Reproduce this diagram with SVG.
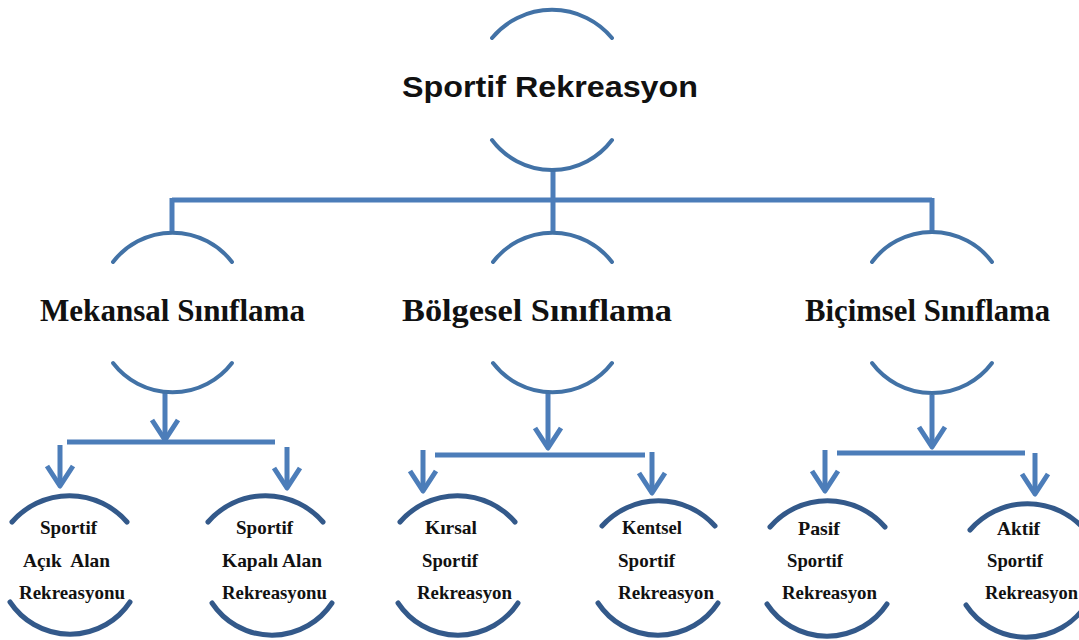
<svg xmlns="http://www.w3.org/2000/svg" width="1079" height="640" viewBox="0 0 1079 640">
<style>
.bg{fill:#ffffff}
.arc{fill:none;stroke:#4272a6;stroke-width:4;stroke-linecap:round}
.leafarc{fill:none;stroke:#33598a;stroke-width:5;stroke-linecap:round}
.con{fill:none;stroke:#4c7db9;stroke-width:5}
.title{font-family:"Liberation Sans",Arial,sans-serif;font-weight:bold;font-size:29px;fill:#111}
.mid{font-family:"Liberation Serif","Times New Roman",serif;font-weight:bold;font-size:31px;fill:#111}
.leaf{font-family:"Liberation Serif","Times New Roman",serif;font-weight:bold;font-size:19px;fill:#111}
</style>
<defs>
<marker id="ah" markerUnits="userSpaceOnUse" viewBox="0 0 30 30" markerWidth="30" markerHeight="30" refX="25" refY="15" orient="auto" overflow="visible">
<path d="M5,2 L25,15 L5,28" fill="none" stroke="#4c7db9" stroke-width="5" stroke-linejoin="round"/>
</marker>
</defs>
<rect class="bg" x="0" y="0" width="1079" height="640"/>

<g id="connectors">
<path class="con" d="M553,170 V232"/>
<path class="con" d="M172,200 H932"/>
<path class="con" d="M172,198 V232"/>
<path class="con" d="M932,198 V232"/>
<path class="con" d="M165,392 V440" marker-end="url(#ah)"/>
<path class="con" d="M67,442 H275"/>
<path class="con" d="M60,445 V486" marker-end="url(#ah)"/>
<path class="con" d="M287,447 V488" marker-end="url(#ah)"/>
<path class="con" d="M548,392 V448" marker-end="url(#ah)"/>
<path class="con" d="M435,455 H645"/>
<path class="con" d="M423,450 V491" marker-end="url(#ah)"/>
<path class="con" d="M652,452 V493" marker-end="url(#ah)"/>
<path class="con" d="M932,395 V447" marker-end="url(#ah)"/>
<path class="con" d="M837,453 H1025"/>
<path class="con" d="M825,450 V491" marker-end="url(#ah)"/>
<path class="con" d="M1035,453 V494" marker-end="url(#ah)"/>
</g>

<g id="node-sportif-rekreasyon">
<path class="arc" d="M492,38 A78,78 0 0 1 612,38"/>
<path class="arc" d="M492,140 A75,75 0 0 0 612,140"/>
<text class="title" x="402" y="97" textLength="296" lengthAdjust="spacingAndGlyphs">Sportif Rekreasyon</text>
</g>

<g id="node-mekansal">
<path class="arc" d="M113,262 A75,75 0 0 1 232,262"/>
<path class="arc" d="M113,363 A75,75 0 0 0 232,363"/>
<text class="mid" x="40" y="321" textLength="265" lengthAdjust="spacingAndGlyphs">Mekansal Sınıflama</text>
</g>

<g id="node-bolgesel">
<path class="arc" d="M493,262 A75,75 0 0 1 612,262"/>
<path class="arc" d="M493,363 A75,75 0 0 0 612,363"/>
<text class="mid" x="402" y="321" textLength="270" lengthAdjust="spacingAndGlyphs">Bölgesel Sınıflama</text>
</g>

<g id="node-bicimsel">
<path class="arc" d="M872,262 A75,75 0 0 1 992,262"/>
<path class="arc" d="M872,363 A75,75 0 0 0 992,363"/>
<text class="mid" x="805" y="321" textLength="245" lengthAdjust="spacingAndGlyphs">Biçimsel Sınıflama</text>
</g>

<g id="node-acik-alan">
<path class="leafarc" d="M12,522 A76,76 0 0 1 127,522"/>
<path class="leafarc" d="M10,602 A72,72 0 0 0 130,602"/>
<text class="leaf" x="40" y="534" textLength="57" lengthAdjust="spacingAndGlyphs">Sportif</text>
<text class="leaf" x="23" y="567" textLength="87" lengthAdjust="spacingAndGlyphs" xml:space="preserve">Açık  Alan</text>
<text class="leaf" x="19" y="599" textLength="106" lengthAdjust="spacingAndGlyphs">Rekreasyonu</text>
</g>

<g id="node-kapali-alan">
<path class="leafarc" d="M208,522 A76,76 0 0 1 323,522"/>
<path class="leafarc" d="M212,603 A72,72 0 0 0 332,603"/>
<text class="leaf" x="236" y="534" textLength="57" lengthAdjust="spacingAndGlyphs">Sportif</text>
<text class="leaf" x="222" y="567" textLength="100" lengthAdjust="spacingAndGlyphs">Kapalı Alan</text>
<text class="leaf" x="222" y="599" textLength="105" lengthAdjust="spacingAndGlyphs">Rekreasyonu</text>
</g>

<g id="node-kirsal">
<path class="leafarc" d="M400,522 A76,76 0 0 1 515,522"/>
<path class="leafarc" d="M398,603 A72,72 0 0 0 518,603"/>
<text class="leaf" x="425" y="534" textLength="52" lengthAdjust="spacingAndGlyphs">Kırsal</text>
<text class="leaf" x="422" y="567" textLength="56" lengthAdjust="spacingAndGlyphs">Sportif</text>
<text class="leaf" x="417" y="599" textLength="95" lengthAdjust="spacingAndGlyphs">Rekreasyon</text>
</g>

<g id="node-kentsel">
<path class="leafarc" d="M602,526 A76,76 0 0 1 715,526"/>
<path class="leafarc" d="M598,603 A72,72 0 0 0 718,603"/>
<text class="leaf" x="622" y="534" textLength="60" lengthAdjust="spacingAndGlyphs">Kentsel</text>
<text class="leaf" x="618" y="567" textLength="57" lengthAdjust="spacingAndGlyphs">Sportif</text>
<text class="leaf" x="618" y="599" textLength="96" lengthAdjust="spacingAndGlyphs">Rekreasyon</text>
</g>

<g id="node-pasif">
<path class="leafarc" d="M770,527 A76,76 0 0 1 885,527"/>
<path class="leafarc" d="M767,604 A72,72 0 0 0 887,604"/>
<text class="leaf" x="798" y="535" textLength="42" lengthAdjust="spacingAndGlyphs">Pasif</text>
<text class="leaf" x="787" y="567" textLength="56" lengthAdjust="spacingAndGlyphs">Sportif</text>
<text class="leaf" x="782" y="599" textLength="95" lengthAdjust="spacingAndGlyphs">Rekreasyon</text>
</g>

<g id="node-aktif">
<path class="leafarc" d="M970,530 A76,76 0 0 1 1085,530"/>
<path class="leafarc" d="M966,605 A72,72 0 0 0 1086,605"/>
<text class="leaf" x="997" y="535" textLength="43" lengthAdjust="spacingAndGlyphs">Aktif</text>
<text class="leaf" x="987" y="567" textLength="56" lengthAdjust="spacingAndGlyphs">Sportif</text>
<text class="leaf" x="985" y="599" textLength="93" lengthAdjust="spacingAndGlyphs">Rekreasyon</text>
</g>
</svg>
